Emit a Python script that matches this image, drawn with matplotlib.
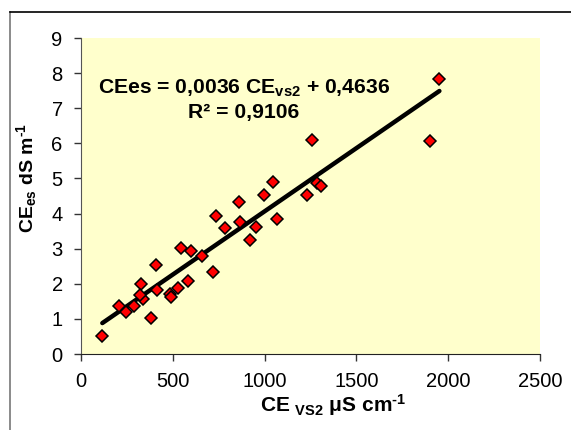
import numpy as np
import matplotlib
matplotlib.use('Agg')
import matplotlib.pyplot as plt
from matplotlib.lines import Line2D

plt.rcParams['font.family'] = ['Liberation Sans', 'DejaVu Sans']
plt.rcParams['mathtext.fontset'] = 'custom'
plt.rcParams['mathtext.rm'] = 'Liberation Sans:bold'
plt.rcParams['mathtext.bf'] = 'Liberation Sans:bold'
plt.rcParams['mathtext.it'] = 'Liberation Sans:bold'

# conductivity of the 1:2 extract (uS/cm) vs saturated paste extract (dS/m)
ce_vs2 = [116, 209, 245, 287, 327, 340, 322, 380, 408, 412, 485, 490, 526,
          545, 581, 599, 657, 721, 733, 784, 861, 866, 919, 953, 995, 1048,
          1066, 1229, 1260, 1284, 1307, 1901, 1952]
ce_es = [0.51, 1.37, 1.19, 1.38, 2.00, 1.57, 1.68, 1.03, 2.54, 1.82, 1.70,
         1.62, 1.87, 3.03, 2.09, 2.92, 2.78, 2.33, 3.94, 3.60, 4.32, 3.75,
         3.25, 3.61, 4.52, 4.89, 3.84, 4.52, 6.10, 4.88, 4.79, 6.08, 7.84]

slope = 0.0036
intercept = 0.4636
r2 = 0.9106

x_ticks = [0, 500, 1000, 1500, 2000, 2500]
y_ticks = list(range(0, 10))


def comma(v):
    return '{:.4f}'.format(v).replace('.', ',')


fig = plt.figure(figsize=(5.71, 4.30), dpi=100)
ax = fig.add_axes([0.1419, 0.1767, 0.8038, 0.7349])
ax.set_facecolor('#FFFFCC')

xs = np.array([min(ce_vs2), max(ce_vs2)])
ax.plot(xs, slope * xs + intercept, color='black', lw=3.2,
        solid_capstyle='round', zorder=2)
ax.plot(ce_vs2, ce_es, linestyle='none', marker='D', ms=6.3,
        mfc='#FF0000', mec='black', mew=1.1, zorder=3)

ax.set_xlim(0, 2500)
ax.set_ylim(0, 9)
ax.set_xticks(x_ticks)
ax.set_yticks(y_ticks)
ax.tick_params(direction='out', length=4.7, width=1, labelsize=14.5, pad=8.5,
               color='#333333')
for side in ['top', 'right']:
    ax.spines[side].set_visible(False)
ax.spines['left'].set_color('#555555')
ax.spines['bottom'].set_color('#222222')

ax.set_xlabel(r'CE $_{\mathrm{VS2}}$ $\mu$S cm$^{\text{-1}}$',
              fontsize=15, fontweight='bold')
ax.set_ylabel(r'CE$_{\mathrm{es}}$ dS m$^{\text{-1}}$',
              fontsize=14, fontweight='bold')
ax.xaxis.set_label_coords(0.549, -0.120)
ax.yaxis.set_label_coords(-0.092, 0.557)

ax.text(0.355, 0.842,
        r'CEes = {} CE$_{{\mathrm{{vs2}}}}$ + {}'.format(comma(slope), comma(intercept)),
        transform=ax.transAxes, ha='center', va='center',
        fontsize=15.2, fontweight='bold')
ax.text(0.355, 0.763, 'R\u00b2 = {}'.format(comma(r2)),
        transform=ax.transAxes, ha='center', va='center',
        fontsize=15.2, fontweight='bold')

# chart frame (left and top edges)
fig.add_artist(Line2D([0.017, 0.017], [0.0, 0.972], color='#777777', lw=1.2,
                      transform=fig.transFigure))
fig.add_artist(Line2D([0.017, 1.0], [0.972, 0.972], color='black', lw=1.2,
                      transform=fig.transFigure))

fig.savefig('out.png', dpi=100)
